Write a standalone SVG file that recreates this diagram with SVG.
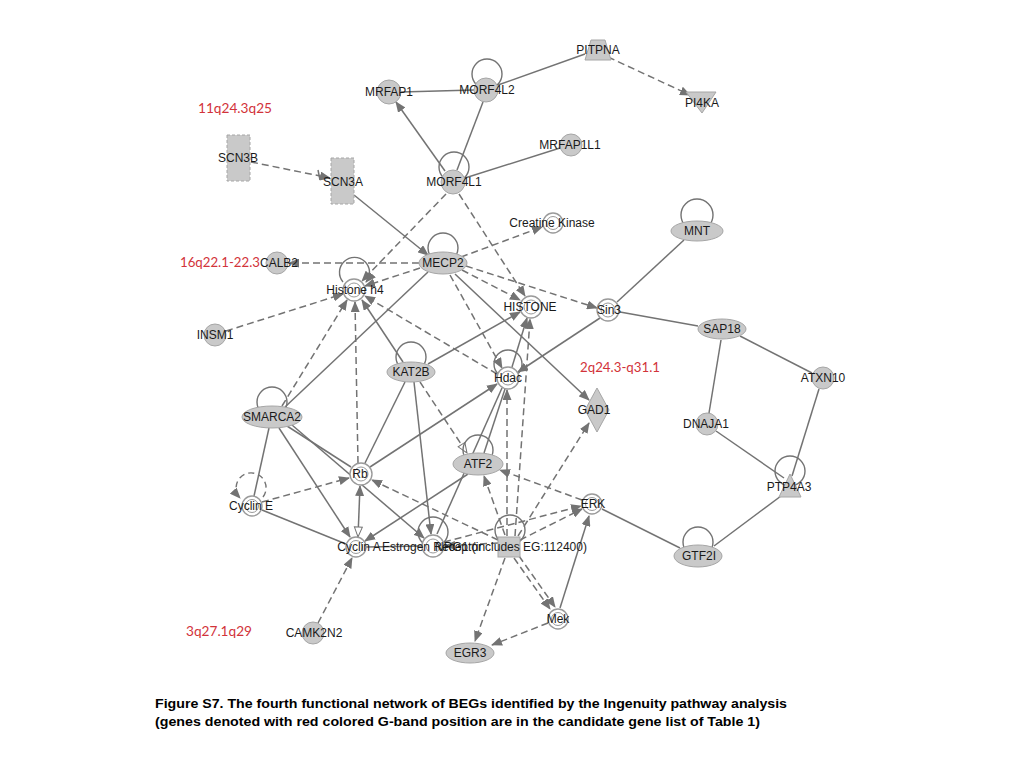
<svg xmlns="http://www.w3.org/2000/svg" width="1024" height="768" viewBox="0 0 1024 768">
<style>
.e{stroke:#737373;stroke-width:1.5;fill:none}
.d{stroke:#737373;stroke-width:1.5;fill:none;stroke-dasharray:7,4}
.a{marker-end:url(#arr)}
.o{marker-end:url(#open)}
.loop{stroke:#737373;stroke-width:1.4;fill:none}
.g{fill:#c9c9c9;stroke:#a6a6a6;stroke-width:1}
.w{fill:#fff;stroke:#9a9a9a;stroke-width:1.4}
.wi{fill:none;stroke:#9a9a9a;stroke-width:1}
.t{font-family:"Liberation Sans",Arial,sans-serif;font-size:12px;fill:#1a1a1a;text-anchor:middle}
.r{font-family:Lato,"Open Sans",sans-serif;font-size:14px;fill:#d2333a}
.c{font-family:"Liberation Sans",Arial,sans-serif;font-size:13px;font-weight:bold;fill:#000}
</style>
<defs>
<marker id="arr" markerWidth="11" markerHeight="9" refX="10" refY="4.5" orient="auto" markerUnits="userSpaceOnUse"><path d="M0,0 L11,4.5 L0,9 z" fill="#737373"/></marker>
<marker id="open" markerWidth="12" markerHeight="10" refX="11" refY="5" orient="auto" markerUnits="userSpaceOnUse"><path d="M1,1 L11,5 L1,9 z" fill="#fff" stroke="#737373" stroke-width="1"/></marker>
<marker id="openS" markerWidth="12" markerHeight="10" refX="11" refY="5" orient="auto-start-reverse" markerUnits="userSpaceOnUse"><path d="M1,1 L11,5 L1,9 z" fill="#fff" stroke="#737373" stroke-width="1"/></marker>
</defs>
<rect width="1024" height="768" fill="#fff"/>
<g id="connectors">
<line class="e" x1="498" y1="85" x2="585" y2="54"/>
<line class="e" x1="401" y1="92" x2="474" y2="90"/>
<line class="e" x1="457" y1="170" x2="483" y2="102"/>
<line class="e" x1="465" y1="178" x2="560" y2="148"/>
<line class="e" x1="428" y1="272" x2="285" y2="407"/>
<line class="e" x1="617" y1="302" x2="684" y2="240"/>
<line class="e" x1="620" y1="312" x2="698" y2="326"/>
<line class="e" x1="740" y1="336" x2="812" y2="373"/>
<line class="e" x1="721" y1="340" x2="709" y2="413"/>
<line class="e" x1="716" y1="431" x2="784" y2="478"/>
<line class="e" x1="819" y1="389" x2="792" y2="476"/>
<line class="e" x1="781" y1="496" x2="714" y2="546"/>
<line class="e" x1="602" y1="509" x2="680" y2="548"/>
<line class="e" x1="405" y1="382" x2="365" y2="463"/>
<line class="e" x1="269" y1="428" x2="254" y2="496"/>
<line class="e" x1="287" y1="426" x2="351" y2="467"/>
<line class="e" x1="262" y1="510" x2="346" y2="544"/>
<line class="e" x1="484" y1="453" x2="505" y2="389"/>
<line class="e" x1="437" y1="534" x2="502" y2="388"/>
<line class="e" x1="366" y1="547" x2="422" y2="546"/>
<line class="e a" x1="445" y1="171" x2="396" y2="102"/>
<line class="e a" x1="354" y1="195" x2="428" y2="255"/>
<line class="e a" x1="455" y1="274" x2="589" y2="400"/>
<line class="e a" x1="428" y1="364" x2="520" y2="312"/>
<line class="e a" x1="403" y1="362" x2="362" y2="300"/>
<line class="e a" x1="512" y1="367" x2="527" y2="318"/>
<line class="e a" x1="600" y1="318" x2="518" y2="372"/>
<line class="e a" x1="370" y1="467" x2="497" y2="384"/>
<line class="e a" x1="279" y1="428" x2="350" y2="537"/>
<line class="e a" x1="292" y1="425" x2="424" y2="538"/>
<line class="e a" x1="414" y1="382" x2="431" y2="534"/>
<line class="e a" x1="468" y1="474" x2="365" y2="541"/>
<line class="e a" x1="358" y1="537" x2="360" y2="486" style="marker-start:url(#openS)"/>
<line class="e a" x1="560" y1="608" x2="589" y2="516"/>
<line class="d a" x1="608" y1="57" x2="690" y2="95"/>
<line class="d a" x1="251" y1="162" x2="330" y2="178"/>
<line class="e" x1="318" y1="170" x2="320" y2="180"/>
<line class="d a" x1="446" y1="194" x2="362" y2="281"/>
<line class="d a" x1="459" y1="194" x2="525" y2="296"/>
<line class="d a" x1="461" y1="257" x2="542" y2="227"/>
<line class="d a" x1="419" y1="263" x2="289" y2="263"/>
<line class="d a" x1="420" y1="268" x2="365" y2="286"/>
<line class="d a" x1="462" y1="270" x2="520" y2="300"/>
<line class="d a" x1="466" y1="266" x2="597" y2="308"/>
<line class="d a" x1="450" y1="275" x2="502" y2="368"/>
<line class="d a" x1="226" y1="331" x2="343" y2="294"/>
<line class="d a" x1="282" y1="406" x2="347" y2="300"/>
<line class="d a" x1="358" y1="463" x2="355" y2="302"/>
<line class="d a" x1="497" y1="374" x2="365" y2="296"/>
<line class="d o" x1="420" y1="382" x2="467" y2="453"/>
<line class="d a" x1="262" y1="502" x2="349" y2="478"/>
<line class="d a" x1="498" y1="540" x2="372" y2="480"/>
<line class="d a" x1="505" y1="535" x2="484" y2="476"/>
<line class="d a" x1="582" y1="500" x2="500" y2="470"/>
<line class="d a" x1="518" y1="536" x2="589" y2="423"/>
<line class="d a" x1="520" y1="540" x2="582" y2="509"/>
<line class="d a" x1="444" y1="542" x2="581" y2="506"/>
<line class="d a" x1="498" y1="543" x2="445" y2="546"/>
<line class="d a" x1="507" y1="536" x2="507" y2="390"/>
<line class="d a" x1="515" y1="536" x2="530" y2="319"/>
<line class="d a" x1="505" y1="558" x2="475" y2="641"/>
<line class="d a" x1="514" y1="558" x2="550" y2="609"/>
<line class="d a" x1="519" y1="556" x2="555" y2="607"/>
<line class="d a" x1="548" y1="623" x2="492" y2="645"/>
<line class="d a" x1="318" y1="623" x2="352" y2="558"/>
<circle class="loop" cx="487" cy="74" r="15"/>
<circle class="loop" cx="454" cy="167" r="15"/>
<circle class="loop" cx="443" cy="248" r="15"/>
<path class="loop" d="M343,282 A15,15 0 1 1 366,282" style="marker-end:url(#arr)"/>
<circle class="loop" cx="411" cy="357" r="15"/>
<circle class="loop" cx="508" cy="364" r="14"/>
<circle class="loop" cx="272" cy="402" r="15"/>
<circle class="loop" cx="478" cy="450" r="15"/>
<circle class="loop" cx="433" cy="532" r="15"/>
<circle class="loop" cx="510" cy="530" r="15"/>
<path class="loop" d="M263,497 A15,15 0 1 0 240,498" style="stroke-dasharray:6,4;marker-end:url(#arr)"/>
<circle class="loop" cx="697" cy="215" r="16"/>
<circle class="loop" cx="790" cy="471" r="15"/>
<circle class="loop" cx="698" cy="542" r="15"/>
</g>
<g id="PITPNA"><polygon class="g" points="591,40 605,40 611,60 585,60"/><text class="t" x="598" y="54">PITPNA</text></g>
<g id="PI4KA"><polygon class="g" points="686,92 716,92 702,113"/><text class="t" x="702" y="107">PI4KA</text></g>
<g id="MORF4L2"><circle class="g" cx="486" cy="90" r="12"/><text class="t" x="487" y="94">MORF4L2</text></g>
<g id="MRFAP1"><circle class="g" cx="389" cy="92" r="12"/><text class="t" x="389" y="96">MRFAP1</text></g>
<g id="MORF4L1"><circle class="g" cx="453" cy="182" r="12"/><text class="t" x="454" y="186">MORF4L1</text></g>
<g id="MRFAP1L1"><circle class="g" cx="571" cy="145" r="11"/><text class="t" x="570" y="149">MRFAP1L1</text></g>
<g id="SCN3B"><rect class="g" x="227" y="135" width="23" height="46" style="stroke-dasharray:3,2"/><text class="t" x="238" y="162">SCN3B</text></g>
<g id="SCN3A"><rect class="g" x="331" y="158" width="23" height="46" style="stroke-dasharray:3,2"/><text class="t" x="343" y="186">SCN3A</text></g>
<g id="CreatineKinase"><circle class="w" cx="553" cy="223" r="10"/><circle class="wi" cx="553" cy="223" r="6.5"/><text class="t" x="552" y="227">Creatine Kinase</text></g>
<g id="MNT"><ellipse class="g" cx="697" cy="231" rx="26" ry="10"/><text class="t" x="697" y="235">MNT</text></g>
<g id="MECP2"><ellipse class="g" cx="443" cy="263" rx="24" ry="11"/><text class="t" x="443" y="267">MECP2</text></g>
<g id="CALB2"><circle class="g" cx="277" cy="263" r="11"/><text class="t" x="279" y="267">CALB2</text></g>
<g id="HistoneH4"><circle class="w" cx="354" cy="290" r="11"/><circle class="wi" cx="354" cy="290" r="7"/><text class="t" x="355" y="294">Histone h4</text></g>
<g id="HISTONE"><circle class="w" cx="531" cy="307" r="11"/><circle class="wi" cx="531" cy="307" r="7"/><text class="t" x="530" y="311">HISTONE</text></g>
<g id="Sin3"><circle class="w" cx="608" cy="310" r="11"/><circle class="wi" cx="608" cy="310" r="7"/><text class="t" x="609" y="314">Sin3</text></g>
<g id="INSM1"><circle class="g" cx="215" cy="335" r="11"/><text class="t" x="215" y="339">INSM1</text></g>
<g id="SAP18"><ellipse class="g" cx="722" cy="329" rx="24" ry="10"/><text class="t" x="722" y="333">SAP18</text></g>
<g id="KAT2B"><ellipse class="g" cx="411" cy="372" rx="24" ry="10"/><text class="t" x="411" y="376">KAT2B</text></g>
<g id="Hdac"><circle class="w" cx="508" cy="378" r="11"/><circle class="wi" cx="508" cy="378" r="7"/><text class="t" x="508" y="382">Hdac</text></g>
<g id="ATXN10"><circle class="g" cx="823" cy="378" r="11"/><text class="t" x="823" y="382">ATXN10</text></g>
<g id="SMARCA2"><ellipse class="g" cx="272" cy="417" rx="30" ry="11"/><text class="t" x="272" y="421">SMARCA2</text></g>
<g id="GAD1"><polygon class="g" points="597,388 609,410 597,432 585,410"/><text class="t" x="594" y="414">GAD1</text></g>
<g id="DNAJA1"><circle class="g" cx="707" cy="424" r="11"/><text class="t" x="706" y="428">DNAJA1</text></g>
<g id="Rb"><circle class="w" cx="361" cy="474" r="11"/><circle class="wi" cx="361" cy="474" r="7"/><text class="t" x="360" y="478">Rb</text></g>
<g id="ATF2"><ellipse class="g" cx="478" cy="464" rx="25" ry="11"/><text class="t" x="478" y="468">ATF2</text></g>
<g id="PTP4A3"><polygon class="g" points="790,474 801,497 779,497"/><text class="t" x="789" y="491">PTP4A3</text></g>
<g id="CyclinE"><circle class="w" cx="252" cy="506" r="10"/><circle class="wi" cx="252" cy="506" r="6.5"/><text class="t" x="251" y="510">Cyclin E</text></g>
<g id="ERK"><circle class="w" cx="592" cy="504" r="10"/><circle class="wi" cx="592" cy="504" r="6.5"/><text class="t" x="593" y="508">ERK</text></g>
<g id="CyclinA"><circle class="w" cx="356" cy="547" r="10"/><circle class="wi" cx="356" cy="547" r="6.5"/><text class="t" x="359" y="551">Cyclin A</text></g>
<g id="EstrogenReceptor"><circle class="w" cx="433" cy="546" r="11"/><circle class="wi" cx="433" cy="546" r="7"/><text class="t" x="432" y="551">Estrogen Receptor</text></g>
<g id="NRG1"><rect class="g" x="498" y="537" width="22" height="20"/><text class="t" x="511" y="551">NRG1 (includes EG:112400)</text></g>
<g id="GTF2I"><ellipse class="g" cx="698" cy="556" rx="24" ry="11"/><text class="t" x="699" y="560">GTF2I</text></g>
<g id="Mek"><circle class="w" cx="558" cy="619" r="10"/><circle class="wi" cx="558" cy="619" r="6.5"/><text class="t" x="558" y="623">Mek</text></g>
<g id="EGR3"><ellipse class="g" cx="470" cy="653" rx="24" ry="10"/><text class="t" x="470" y="657">EGR3</text></g>
<g id="CAMK2N2"><circle class="g" cx="313" cy="633" r="11"/><text class="t" x="314" y="637">CAMK2N2</text></g>
<g id="bands">
<text class="r" x="198" y="113" textLength="74" lengthAdjust="spacingAndGlyphs">11q24.3q25</text>
<text class="r" x="180" y="267" textLength="80" lengthAdjust="spacingAndGlyphs">16q22.1-22.3</text>
<text class="r" x="580" y="372" textLength="80" lengthAdjust="spacingAndGlyphs">2q24.3-q31.1</text>
<text class="r" x="186" y="636" textLength="66" lengthAdjust="spacingAndGlyphs">3q27.1q29</text>
</g>
<g id="caption">
<text class="c" x="155" y="708" textLength="632" lengthAdjust="spacingAndGlyphs">Figure S7. The fourth functional network of BEGs identified by the Ingenuity pathway analysis</text>
<text class="c" x="155" y="726" textLength="605" lengthAdjust="spacingAndGlyphs">(genes denoted with red colored G-band position are in the candidate gene list of Table 1)</text>
</g>
</svg>
